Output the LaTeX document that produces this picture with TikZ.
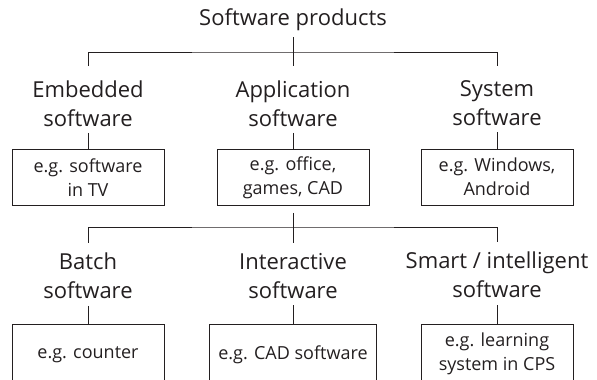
\documentclass[tikz,border=0pt]{standalone}
\usepackage{fontspec}
\setmainfont{Open Sans}
\usetikzlibrary{positioning}
\usepackage{xcolor}
\definecolor{inkgray}{HTML}{231F20}

\begin{document}
\begin{tikzpicture}[x=1pt, y=-1pt, inkgray, line width=1pt,
    level/.style={inner sep=0pt, outer sep=0pt, align=center,
      font=\fontsize{22}{29}\selectfont},
    example/.style={draw, inner xsep=9pt, outer sep=0pt, align=center,
      minimum width=152pt, minimum height=56pt,
      font=\fontsize{18}{24}\selectfont}]
  \useasboundingbox (0,0) rectangle (597,380);

  % first level
  \node[level, anchor=north] (root) at (293,9) {Software products};
  \coordinate (bus1) at (293,52);
  \node[level, anchor=north] (embedded) at (88,81) {Embedded\\software};
  \node[level, anchor=north] (application) at (293,81) {Application\\software};
  \node[level, anchor=north] (system) at (497,81) {System\\software};

  \node[example, below=23pt of embedded] (embex) {e.g. software\\in TV};
  \node[example, below=23pt of application] (appex) {e.g. office,\\games, CAD};
  \node[example, below=23pt of system] (sysex) {e.g. Windows,\\Android};

  % second level
  \coordinate (bus2) at (293,227);
  \node[level, below=47pt of embex] (batch) {Batch\\software};
  \node[level, below=47pt of appex] (interactive) {Interactive\\software};
  \node[level, below=47pt of sysex] (smart) {Smart / intelligent\\software};

  \node[example, minimum height=60pt, below=26pt of batch] (batchex) {e.g. counter};
  \node[example, minimum height=60pt, below=26pt of interactive] (interex) {e.g. CAD software};
  \node[example, minimum height=60pt, below=26pt of smart] (smartex) {e.g. learning\\system in CPS};

  % connectors
  \draw[shorten <=6pt, shorten >=15pt] (root) -- (application);
  \draw[shorten <=15pt, shorten >=15pt] (embedded.north) |- (bus1) -| (system.north);
  \draw[shorten <=6pt] (embedded) -- (embex);
  \draw[shorten <=6pt] (application) -- (appex);
  \draw[shorten <=6pt] (system) -- (sysex);

  \draw[shorten <=7pt, shorten >=10pt] (appex) -- (interactive);
  \draw[shorten <=10pt, shorten >=10pt] (batch.north) |- (bus2) -| (smart.north);
  \draw[shorten <=7pt] (batch) -- (batchex);
  \draw[shorten <=7pt] (interactive) -- (interex);
  \draw[shorten <=7pt] (smart) -- (smartex);
\end{tikzpicture}
\end{document}
